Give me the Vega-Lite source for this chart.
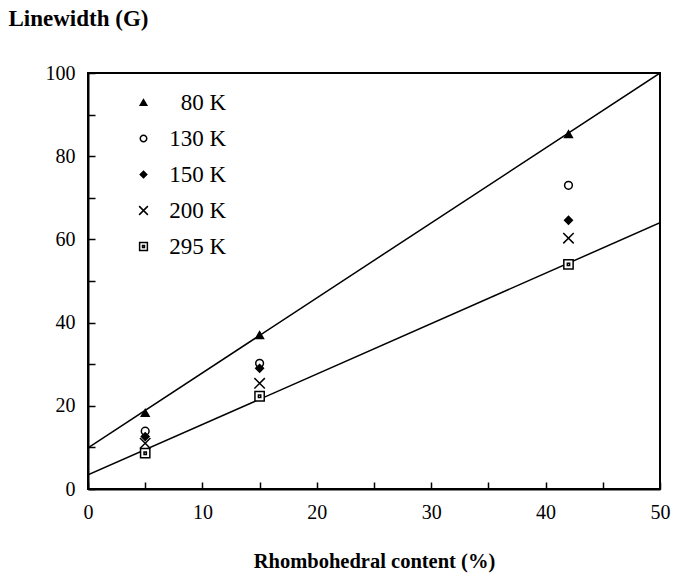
{
  "$schema": "https://vega.github.io/schema/vega-lite/v6.json",
  "width": 572,
  "height": 416,
  "autosize": "none",
  "padding": {"left": 88, "top": 73, "right": 14, "bottom": 84},
  "background": "white",
  "config": {
    "view": {"stroke": "black", "strokeWidth": 2},
    "font": "Liberation Serif",
    "axis": {
      "grid": false,
      "ticks": true,
      "domainColor": "black",
      "domainWidth": 2,
      "tickColor": "black",
      "tickWidth": 1.5,
      "labelFont": "Liberation Serif",
      "labelColor": "black",
      "labelFontSize": 20,
      "titleFont": "Liberation Serif",
      "titleColor": "black",
      "titleFontWeight": "bold"
    }
  },
  "layer": [
    {
      "data": {"values": [
        {"fit": "upper", "content": 0, "width": 9.9},
        {"fit": "upper", "content": 50, "width": 100},
        {"fit": "lower", "content": 0, "width": 3.4},
        {"fit": "lower", "content": 50, "width": 64}
      ]},
      "mark": {"type": "line", "color": "black", "strokeWidth": 1.5, "clip": true},
      "encoding": {
        "x": {"field": "content", "type": "quantitative"},
        "y": {"field": "width", "type": "quantitative"},
        "detail": {"field": "fit"}
      }
    },
    {
      "data": {"values": [
        {"T": "80 K", "content": 5, "width": 18.3},
        {"T": "80 K", "content": 15, "width": 37.0},
        {"T": "80 K", "content": 42, "width": 85.3},
        {"T": "130 K", "content": 5, "width": 13.9},
        {"T": "130 K", "content": 15, "width": 30.2},
        {"T": "130 K", "content": 42, "width": 73.0},
        {"T": "150 K", "content": 5, "width": 12.6},
        {"T": "150 K", "content": 15, "width": 29.0},
        {"T": "150 K", "content": 42, "width": 64.6},
        {"T": "200 K", "content": 5, "width": 11.0},
        {"T": "200 K", "content": 15, "width": 25.4},
        {"T": "200 K", "content": 42, "width": 60.3},
        {"T": "295 K", "content": 5, "width": 8.6},
        {"T": "295 K", "content": 15, "width": 22.3},
        {"T": "295 K", "content": 42, "width": 54.0}
      ]},
      "mark": {"type": "point", "size": 60, "strokeWidth": 1.5, "opacity": 1},
      "encoding": {
        "x": {
          "field": "content", "type": "quantitative",
          "scale": {"domain": [0, 50], "nice": false},
          "axis": {
            "title": "Rhombohedral content (%)",
            "titleFontSize": 20.5,
            "titleX": 286, "titleY": 78, "titleBaseline": "alphabetic", "titleAnchor": "middle",
            "values": [0, 5, 10, 15, 20, 25, 30, 35, 40, 45, 50],
            "labelExpr": "datum.value % 10 === 0 ? datum.label : ''",
            "tickSize": -7,
            "labelPadding": 20,
            "labelFlush": false
          }
        },
        "y": {
          "field": "width", "type": "quantitative",
          "scale": {"domain": [0, 100], "nice": false},
          "axis": {
            "title": "Linewidth (G)",
            "titleFontSize": 23,
            "titleAngle": 0,
            "titleAlign": "left",
            "titleBaseline": "alphabetic",
            "titleX": -80, "titleY": -48,
            "values": [0, 10, 20, 30, 40, 50, 60, 70, 80, 90, 100],
            "labelExpr": "datum.value % 20 === 0 ? datum.label : ''",
            "tickSize": -7,
            "labelPadding": 20,
            "labelFlush": false
          }
        },
        "shape": {
          "field": "T", "type": "nominal",
          "scale": {
            "domain": ["80 K", "130 K", "150 K", "200 K", "295 K"],
            "range": ["triangle-up", "circle", "diamond", "M-1.35,-1.35L1.35,1.35M1.35,-1.35L-1.35,1.35", "M-1.2,-1.2H1.2V1.2H-1.2Z M-0.3,-0.3H0.3V0.3H-0.3Z"]
          },
          "legend": {
            "title": null,
            "orient": "none",
            "legendX": 44,
            "legendY": 18,
            "padding": 0,
            "labelAlign": "right",
            "labelOffset": 71,
            "labelFont": "Liberation Serif",
            "labelFontSize": 23,
            "labelColor": "black",
            "rowPadding": 12,
            "symbolSize": 42,
            "symbolStrokeWidth": 1.5
          }
        },
        "fill": {
          "field": "T", "type": "nominal",
          "scale": {
            "domain": ["80 K", "130 K", "150 K", "200 K", "295 K"],
            "range": ["black", "white", "black", "white", "white"]
          },
          "legend": null
        },
        "stroke": {
          "field": "T", "type": "nominal",
          "scale": {
            "domain": ["80 K", "130 K", "150 K", "200 K", "295 K"],
            "range": ["black", "black", "black", "black", "black"]
          },
          "legend": null
        }
      }
    }
  ]
}
